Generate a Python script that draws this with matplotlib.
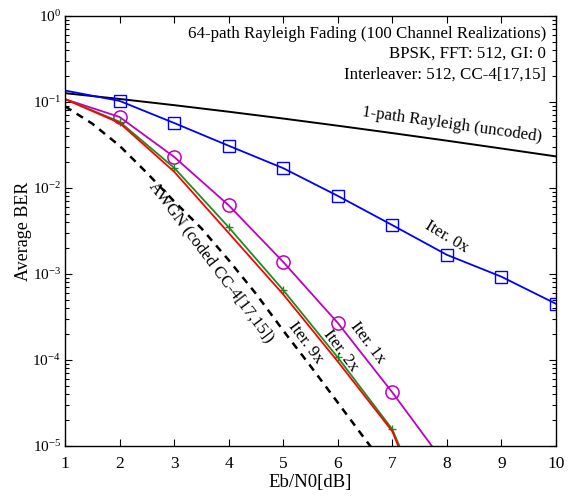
import matplotlib
matplotlib.use("Agg")
import matplotlib.pyplot as plt
from matplotlib.ticker import FixedLocator, FixedFormatter, LogLocator, NullFormatter

plt.rcParams['font.family'] = ['Liberation Serif', 'DejaVu Serif']
plt.rcParams['mathtext.fontset'] = 'custom'
plt.rcParams['mathtext.rm'] = 'Liberation Serif'
plt.rcParams['mathtext.it'] = 'Liberation Serif:italic'

# ---- data ----
ebn0 = [1, 2, 3, 4, 5, 6, 7, 8, 9, 10]
rayleigh_1path = [0.1267, 0.1085, 0.0919, 0.0771, 0.0642, 0.0530, 0.0435, 0.0355, 0.0288, 0.0233]
iter0 = [0.136, 0.103, 0.057, 0.031, 0.017, 0.0081, 0.0037, 0.00167, 0.00093, 0.00045]

ebn0_it = [1, 2, 3, 4, 5, 6, 7, 8]
iter1 = [0.108, 0.067, 0.023, 0.0063, 0.00138, 0.00027, 0.000042, 0.0000058]
iter2 = [0.108, 0.059, 0.0172, 0.0035, 0.00065, 0.000107, 0.0000156, 0.0000005]
iter9 = [0.108, 0.057, 0.0155, 0.0030, 0.00058, 0.000096, 0.0000148, 0.0000004]

ebn0_awgn = [1, 1.5, 2, 2.5, 3, 3.5, 4, 4.5, 5, 5.5, 6, 6.5, 7]
awgn = [0.089, 0.056, 0.031, 0.015, 0.0070, 0.0034, 0.00145, 0.00059, 0.00022,
        0.000085, 0.000032, 0.000012, 0.0000046]

xticks = [1, 2, 3, 4, 5, 6, 7, 8, 9, 10]
yticks = [1e-5, 1e-4, 1e-3, 1e-2, 1e-1, 1e0]
ytick_labels = [r'$10^{-5}$', r'$10^{-4}$', r'$10^{-3}$', r'$10^{-2}$', r'$10^{-1}$', r'$10^{0}$']

info_lines = ["64-path Rayleigh Fading (100 Channel Realizations)",
              "BPSK, FFT: 512, GI: 0",
              "Interleaver: 512, CC-4[17,15]"]

# ---- figure ----
fig = plt.figure(figsize=(5.83, 4.97), dpi=100)
ax = fig.add_axes([65/583, 1-446/497, (556-65)/583, (446-16)/497])

magenta = '#C000C0'
green = '#1E8C1E'
fs = 12.2

ax.semilogy(ebn0, rayleigh_1path, color='black', lw=1.4)
ax.semilogy(ebn0, iter0, color='#0000FF', lw=1.3, marker='s', ms=9,
            mfc='none', mec='#0000FF', mew=1.0, markevery=list(range(1, len(ebn0))))
ax.semilogy(ebn0_awgn, awgn, color='black', lw=1.8, ls=(0, (3, 2.5)))
ax.semilogy(ebn0_it, iter1, color=magenta, lw=1.3, marker='o', ms=9.5,
            mfc='none', mec=magenta, mew=1.1, markevery=list(range(1, len(ebn0_it))))
ax.semilogy(ebn0_it, iter2, color=green, lw=1.3, marker='+', ms=6, mew=1.0,
            markevery=list(range(1, len(ebn0_it))))
ax.semilogy(ebn0_it, iter9, color='red', lw=1.3)

ax.set_xlim(1, 10)
ax.set_ylim(1e-5, 1)
ax.xaxis.set_major_locator(FixedLocator(xticks))
ax.set_xticklabels([str(t) for t in xticks])
ax.yaxis.set_major_locator(FixedLocator(yticks))
ax.yaxis.set_major_formatter(FixedFormatter(ytick_labels))
ax.yaxis.set_minor_locator(LogLocator(base=10, subs=range(2, 10), numticks=20))
ax.yaxis.set_minor_formatter(NullFormatter())

ax.tick_params(axis='both', which='both', direction='in', top=True, right=True,
               width=0.8, color='black')
ax.tick_params(axis='x', which='major', labelsize=12.5, pad=7)
ax.tick_params(axis='y', which='major', labelsize=11, pad=3)
ax.tick_params(axis='both', which='major', length=5)
ax.tick_params(axis='y', which='minor', length=3)
for s in ax.spines.values():
    s.set_linewidth(1.0)

ax.set_xlabel('Eb/N0[dB]', fontsize=13.5, labelpad=2)
ax.set_ylabel('Average BER', fontsize=13)
ax.yaxis.set_label_coords(-0.068, 0.5)

ys = [0.959, 0.9116, 0.8628]
for t, yy in zip(info_lines, ys):
    ax.text(0.9796, yy, t, transform=ax.transAxes, ha='right', va='center', fontsize=fs)

ax.text(8.09, 0.054, '1-path Rayleigh (uncoded)', rotation=-8, ha='center', va='center',
        fontsize=fs, rotation_mode='anchor')
ax.text(8.0, 2.7e-3, 'Iter. 0x', rotation=-31, ha='center', va='center', fontsize=fs,
        rotation_mode='anchor')
ax.text(3.68, 1.38e-3, 'AWGN (coded CC-4[17,15])', rotation=-53, ha='center', va='center',
        fontsize=fs, rotation_mode='anchor')
ax.text(5.42, 1.58e-4, 'Iter. 9x', rotation=-53, ha='center', va='center', fontsize=fs,
        rotation_mode='anchor')
ax.text(6.06, 1.27e-4, 'Iter. 2x', rotation=-53, ha='center', va='center', fontsize=fs,
        rotation_mode='anchor')
ax.text(6.55, 1.58e-4, 'Iter. 1x', rotation=-53, ha='center', va='center', fontsize=fs,
        rotation_mode='anchor')

fig.savefig('out.png', dpi=100)
